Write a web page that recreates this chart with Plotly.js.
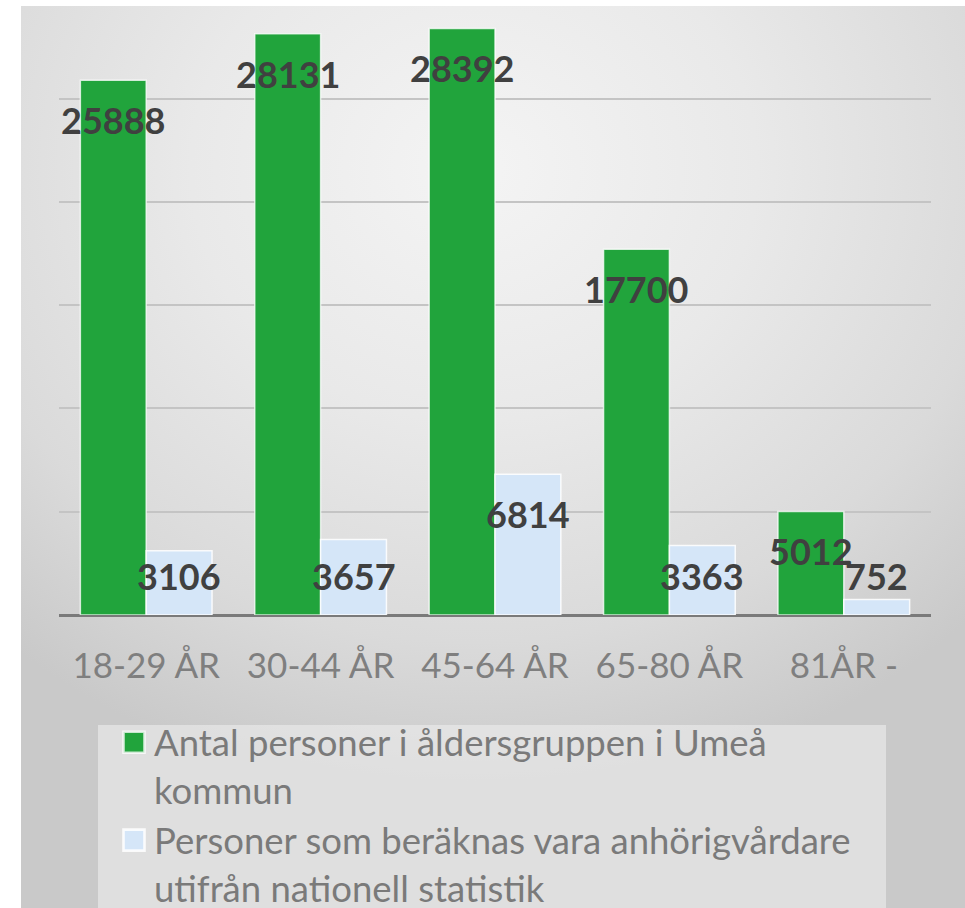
<!DOCTYPE html>
<html>
<head>
<meta charset="utf-8">
<script src="https://cdn.plot.ly/plotly-3.0.1.min.js"></script>
<style>
  html, body { margin:0; padding:0; background:#ffffff; width:965px; height:908px; overflow:hidden; }
  #bg { position:absolute; left:21px; top:6px; width:944px; height:902px;
        background: radial-gradient(ellipse 75% 70% at 48% 18%, #f4f4f4 0%, #e9e9e9 40%, #dadada 75%, #c9c9c9 100%); }
  #chart { position:absolute; left:0; top:0; width:965px; height:960px; }
</style>
</head>
<body>
<div id="bg"></div>
<div id="chart"></div>
<script>
const categories = ['18-29 ÅR', '30-44 ÅR', '45-64 ÅR', '65-80 ÅR', '81ÅR -'];
const antalPersoner = [25888, 28131, 28392, 17700, 5012];
const anhorigvardare = [3106, 3657, 6814, 3363, 752];
const seriesNames = ['Antal personer i åldersgruppen i Umeå<br>kommun',
                     'Personer som beräknas vara anhörigvårdare<br>utifrån nationell statistik'];

const GREEN = '#21a43c';
const BLUE = '#d5e6f8';
const yMax = 29768;
const plotH = 615;
const pxPerUnit = plotH / yMax;
const plotW = 872;

const traces = [
  { type:'bar', x:categories, y:antalPersoner, name:seriesNames[0],
    marker:{color:GREEN, line:{color:'rgba(255,255,255,0.75)', width:1.5}}, hoverinfo:'none' },
  { type:'bar', x:categories, y:anhorigvardare, name:seriesNames[1],
    marker:{color:BLUE, line:{color:'rgba(255,255,255,0.85)', width:1.5}}, hoverinfo:'none' }
];

const annotations = [];
function addLabels(vals, xshift) {
  vals.forEach((v, i) => {
    const clamp = v * pxPerUnit - 40 < 39;
    annotations.push({
      x: categories[i], y: clamp ? 0 : v, xref:'x', yref:'y',
      yshift: clamp ? 39 : -40, xshift: xshift,
      text: String(v), showarrow:false,
      font:{family:'Lato, sans-serif', size:36, color:'#404040', weight:'bold'},
      xanchor:'center', yanchor:'middle'
    });
  });
}
addLabels(antalPersoner, -33);
addLabels(anhorigvardare, 33);

const layout = {
  width:965, height:960,
  margin:{l:59, r:34, t:0, b:345, pad:0},
  paper_bgcolor:'rgba(0,0,0,0)', plot_bgcolor:'rgba(0,0,0,0)',
  barmode:'group', bargap:0.245, bargroupgap:0,
  font:{family:'Lato, sans-serif'},
  xaxis:{ type:'category', showgrid:false, showline:false, zeroline:false, ticks:'',
          tickfont:{family:'Lato, sans-serif', size:35, color:'#7f7f7f'}, ticklabelstandoff:27 },
  yaxis:{ range:[0, yMax], dtick:5000, showticklabels:false, showgrid:true,
          gridcolor:'#c4c4c4', gridwidth:2, zeroline:true, zerolinecolor:'#7a7a7a', zerolinewidth:3, fixedrange:true },
  showlegend:true,
  legend:{ orientation:'v', x:(114-59)/plotW, xanchor:'left', y:(615-712)/plotH, yanchor:'top',
           bgcolor:'rgba(0,0,0,0)', font:{family:'Lato, sans-serif', size:36.5, color:'#7a7a7a'},
           valign:'top', tracegroupgap:0 },
  shapes:[{ type:'rect', xref:'paper', yref:'paper', layer:'below',
            x0:(98-59)/plotW, x1:(886-59)/plotW, y0:(615-725)/plotH, y1:(615-960)/plotH,
            fillcolor:'rgba(240,240,240,0.55)', line:{width:0} }],
  annotations: annotations
};

Plotly.newPlot('chart', traces, layout, {displayModeBar:false, staticPlot:true}).then(() => {
  document.querySelectorAll('.legendpoints path').forEach(p => {
    p.setAttribute('transform', (p.getAttribute('transform') || '') + ' scale(1.75)');
  });
});
</script>
</body>
</html>
